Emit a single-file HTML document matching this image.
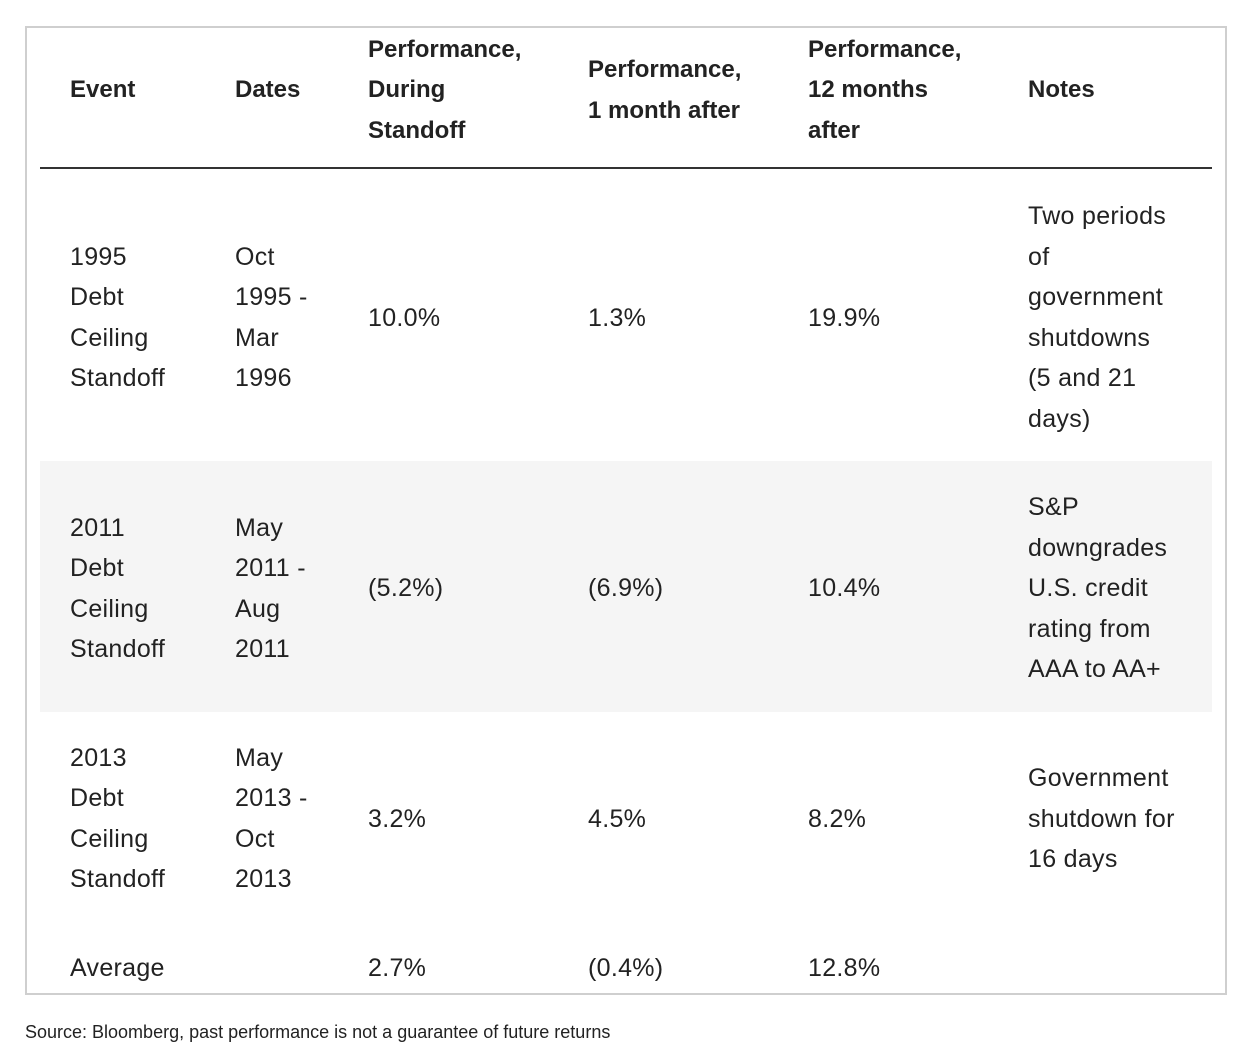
<!DOCTYPE html>
<html><head><meta charset="utf-8"><style>
html,body{margin:0;padding:0;background:#fff;}
body{width:1252px;height:1060px;position:relative;overflow:hidden;font-family:"Liberation Sans",sans-serif;color:#222;}
.box{position:absolute;left:25px;top:26px;width:1198px;height:965px;border:2px solid #cfcfcf;}
.hr{position:absolute;left:40px;top:167px;width:1172px;height:2px;background:#333;}
.shade{position:absolute;left:40px;top:461px;width:1172px;height:251px;background:#f5f5f5;}
.t{position:absolute;font-size:25px;letter-spacing:0.3px;line-height:40px;height:40px;white-space:nowrap;margin-top:1px;}
.b{font-weight:bold;font-size:24px;letter-spacing:0;}
.src{position:absolute;left:25px;top:1021px;font-size:18px;line-height:22px;white-space:nowrap;color:#222;}
</style></head><body>
<div class="box"></div>
<div class="shade"></div>
<div class="hr"></div>

<div class="t b" style="left:70px;top:69px">Event</div>
<div class="t b" style="left:235px;top:69px">Dates</div>
<div class="t b" style="left:368px;top:29px">Performance,</div>
<div class="t b" style="left:368px;top:69px">During</div>
<div class="t b" style="left:368px;top:110px">Standoff</div>
<div class="t b" style="left:588px;top:49px">Performance,</div>
<div class="t b" style="left:588px;top:90px">1 month after</div>
<div class="t b" style="left:808px;top:29px">Performance,</div>
<div class="t b" style="left:808px;top:69px">12 months</div>
<div class="t b" style="left:808px;top:110px">after</div>
<div class="t b" style="left:1028px;top:69px">Notes</div>

<div class="t" style="left:70px;top:236px">1995</div>
<div class="t" style="left:70px;top:276px">Debt</div>
<div class="t" style="left:70px;top:317px">Ceiling</div>
<div class="t" style="left:70px;top:357px">Standoff</div>
<div class="t" style="left:235px;top:236px">Oct</div>
<div class="t" style="left:235px;top:276px">1995 -</div>
<div class="t" style="left:235px;top:317px">Mar</div>
<div class="t" style="left:235px;top:357px">1996</div>
<div class="t" style="left:368px;top:297px">10.0%</div>
<div class="t" style="left:588px;top:297px">1.3%</div>
<div class="t" style="left:808px;top:297px">19.9%</div>
<div class="t" style="left:1028px;top:195px">Two periods</div>
<div class="t" style="left:1028px;top:236px">of</div>
<div class="t" style="left:1028px;top:276px">government</div>
<div class="t" style="left:1028px;top:317px">shutdowns</div>
<div class="t" style="left:1028px;top:357px">(5 and 21</div>
<div class="t" style="left:1028px;top:398px">days)</div>

<div class="t" style="left:70px;top:507px">2011</div>
<div class="t" style="left:70px;top:547px">Debt</div>
<div class="t" style="left:70px;top:588px">Ceiling</div>
<div class="t" style="left:70px;top:628px">Standoff</div>
<div class="t" style="left:235px;top:507px">May</div>
<div class="t" style="left:235px;top:547px">2011 -</div>
<div class="t" style="left:235px;top:588px">Aug</div>
<div class="t" style="left:235px;top:628px">2011</div>
<div class="t" style="left:368px;top:567px">(5.2%)</div>
<div class="t" style="left:588px;top:567px">(6.9%)</div>
<div class="t" style="left:808px;top:567px">10.4%</div>
<div class="t" style="left:1028px;top:486px">S&amp;P</div>
<div class="t" style="left:1028px;top:527px">downgrades</div>
<div class="t" style="left:1028px;top:567px">U.S. credit</div>
<div class="t" style="left:1028px;top:608px">rating from</div>
<div class="t" style="left:1028px;top:648px">AAA to AA+</div>

<div class="t" style="left:70px;top:737px">2013</div>
<div class="t" style="left:70px;top:777px">Debt</div>
<div class="t" style="left:70px;top:818px">Ceiling</div>
<div class="t" style="left:70px;top:858px">Standoff</div>
<div class="t" style="left:235px;top:737px">May</div>
<div class="t" style="left:235px;top:777px">2013 -</div>
<div class="t" style="left:235px;top:818px">Oct</div>
<div class="t" style="left:235px;top:858px">2013</div>
<div class="t" style="left:368px;top:798px">3.2%</div>
<div class="t" style="left:588px;top:798px">4.5%</div>
<div class="t" style="left:808px;top:798px">8.2%</div>
<div class="t" style="left:1028px;top:757px">Government</div>
<div class="t" style="left:1028px;top:798px">shutdown for</div>
<div class="t" style="left:1028px;top:838px">16 days</div>

<div class="t" style="left:70px;top:947px">Average</div>
<div class="t" style="left:368px;top:947px">2.7%</div>
<div class="t" style="left:588px;top:947px">(0.4%)</div>
<div class="t" style="left:808px;top:947px">12.8%</div>

<div class="src">Source: Bloomberg, past performance is not a guarantee of future returns</div>
</body></html>
